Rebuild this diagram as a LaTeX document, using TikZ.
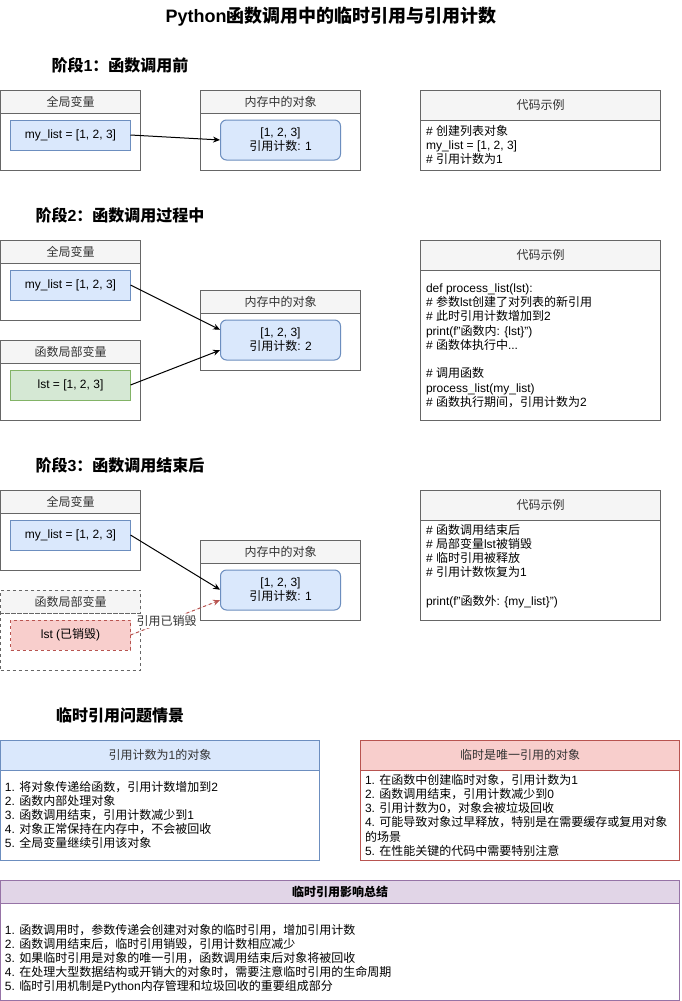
\documentclass[tikz,border=0pt]{standalone}
\usepackage{fontspec}
\setmainfont{Liberation Sans}
\newfontfamily\cjkfont{Noto Sans CJK SC}
\usetikzlibrary{arrows.meta}
\newXeTeXintercharclass\CJKcls
\newcount\cjkc
\def\setcjkrange#1#2{\cjkc=#1\relax\loop\XeTeXcharclass\cjkc=\CJKcls\relax\ifnum\cjkc<#2\relax\advance\cjkc by 1\relax\repeat}
\setcjkrange{"3000}{"303F}
\setcjkrange{"4E00}{"9FFF}
\setcjkrange{"FF00}{"FFEF}
\XeTeXinterchartoks 0 \CJKcls = {\cjkfont}
\XeTeXinterchartoks 4095 \CJKcls = {\cjkfont}
\XeTeXinterchartoks \CJKcls 0 = {\rmfamily}
\XeTeXinterchartoks \CJKcls 4095 = {\rmfamily}
\XeTeXinterchartokenstate=1
\definecolor{hdrfill}{HTML}{F5F5F5}
\definecolor{edgegray}{HTML}{666666}
\definecolor{txtgray}{HTML}{333333}
\definecolor{bluefill}{HTML}{DAE8FC}
\definecolor{bluedraw}{HTML}{6C8EBF}
\definecolor{greenfill}{HTML}{D5E8D4}
\definecolor{greendraw}{HTML}{82B366}
\definecolor{redfill}{HTML}{F8CECC}
\definecolor{reddraw}{HTML}{B85450}
\definecolor{purplefill}{HTML}{E1D5E7}
\definecolor{purpledraw}{HTML}{9673A6}
\newcommand\fl{\rule{0pt}{12pt}}
\tikzset{
  basefont/.style={font=\fontsize{12}{14}\selectfont, inner sep=0pt, outer sep=0pt},
  hdr/.style={basefont, draw=edgegray, fill=hdrfill, text=txtgray, line width=1pt, anchor=north west},
  bodybox/.style={draw=edgegray, fill=white, line width=1pt, anchor=north west, inner sep=0pt, outer sep=0pt},
  dashbox/.style={dash pattern=on 3pt off 3pt},
  varbox/.style={basefont, line width=1pt, anchor=north west, minimum width=120, minimum height=30},
  bluebox/.style={varbox, draw=bluedraw, fill=bluefill},
  greenbox/.style={varbox, draw=greendraw, fill=greenfill},
  redbox/.style={varbox, draw=reddraw, fill=redfill, dashbox},
  objbox/.style={basefont, line width=1pt, anchor=north west, minimum width=120, minimum height=40,
    draw=bluedraw, fill=bluefill, rounded corners=6pt, align=center},
  codetext/.style={basefont, align=left, anchor=north west},
  heading/.style={font=\fontsize{16}{19}\selectfont\bfseries, inner sep=0pt},
  arr/.style={-{Stealth[length=7pt,width=6pt]}, line width=1pt, shorten >=0.5pt},
}
\begin{document}
\begin{tikzpicture}[x=1pt,y=-1pt]
\useasboundingbox (0,0) rectangle (681,1001);

\node[font=\fontsize{18}{21}\selectfont\bfseries, inner sep=0pt] (title) at (331,17) {Python函数调用中的临时引用与引用计数};

% ---------- Stage 1 ----------
\node[heading] (h1) at (120,65) {阶段1：函数调用前};

\node[bodybox, minimum width=140, minimum height=57] (g1b) at (0.5,113) {};
\node[hdr, minimum width=140, minimum height=23] (g1h) at (0.5,90) {全局变量};
\node[bluebox] (ml1) at (10.5,120) {my\_list = [1, 2, 3]};

\node[bodybox, minimum width=160, minimum height=57] (m1b) at (200.5,113) {};
\node[hdr, minimum width=160, minimum height=23] (m1h) at (200.5,90) {内存中的对象};
\node[objbox] (o1) at (220.5,120) {[1, 2, 3]\\引用计数: 1};

\node[bodybox, minimum width=240, minimum height=50] (c1b) at (420.5,120) {};
\node[hdr, minimum width=240, minimum height=30] (c1h) at (420.5,90) {代码示例};
\node[codetext] (c1t) at (426,123.3) {\fl\# 创建列表对象\\my\_list = [1, 2, 3]\\\# 引用计数为1};

\draw[arr] (ml1.east) -- (o1.west);

% ---------- Stage 2 ----------
\node[heading] (h2) at (120,215) {阶段2：函数调用过程中};

\node[bodybox, minimum width=140, minimum height=57] (g2b) at (0.5,263) {};
\node[hdr, minimum width=140, minimum height=23] (g2h) at (0.5,240) {全局变量};
\node[bluebox] (ml2) at (10.5,270) {my\_list = [1, 2, 3]};

\node[bodybox, minimum width=140, minimum height=57] (l2b) at (0.5,363) {};
\node[hdr, minimum width=140, minimum height=23] (l2h) at (0.5,340) {函数局部变量};
\node[greenbox] (lst2) at (10.5,370) {lst = [1, 2, 3]};

\node[bodybox, minimum width=160, minimum height=57] (m2b) at (200.5,313) {};
\node[hdr, minimum width=160, minimum height=23] (m2h) at (200.5,290) {内存中的对象};
\node[objbox] (o2) at (220.5,320) {[1, 2, 3]\\引用计数: 2};

\node[bodybox, minimum width=240, minimum height=150] (c2b) at (420.5,270) {};
\node[hdr, minimum width=240, minimum height=30] (c2h) at (420.5,240) {代码示例};
\node[codetext, font=\fontsize{12}{14.25}\selectfont] (c2t) at (426,280.3) {\fl def process\_list(lst):\\\# 参数lst创建了对列表的新引用\\\# 此时引用计数增加到2\\print(f"函数内: \{lst\}")\\\# 函数体执行中...\\\mbox{}\\\# 调用函数\\process\_list(my\_list)\\\# 函数执行期间，引用计数为2};

\draw[arr] (ml2.east) -- ([yshift=10pt]o2.west);
\draw[arr] (lst2.east) -- ([yshift=-10pt]o2.west);

% ---------- Stage 3 ----------
\node[heading] (h3) at (120,465) {阶段3：函数调用结束后};

\node[bodybox, minimum width=140, minimum height=57] (g3b) at (0.5,513) {};
\node[hdr, minimum width=140, minimum height=23] (g3h) at (0.5,490) {全局变量};
\node[bluebox] (ml3) at (10.5,520) {my\_list = [1, 2, 3]};

\node[bodybox, dashbox, minimum width=140, minimum height=57] (l3b) at (0.5,613) {};
\node[hdr, dashbox, minimum width=140, minimum height=23] (l3h) at (0.5,590) {函数局部变量};
\node[redbox] (lst3) at (10.5,620) {lst (已销毁)};

\node[bodybox, minimum width=160, minimum height=57] (m3b) at (200.5,563) {};
\node[hdr, minimum width=160, minimum height=23] (m3h) at (200.5,540) {内存中的对象};
\node[objbox] (o3) at (220.5,570) {[1, 2, 3]\\引用计数: 1};

\node[bodybox, minimum width=240, minimum height=100] (c3b) at (420.5,520) {};
\node[hdr, minimum width=240, minimum height=30] (c3h) at (420.5,490) {代码示例};
\node[codetext, font=\fontsize{12}{14.2}\selectfont] (c3t) at (426,522.3) {\fl\# 函数调用结束后\\\# 局部变量lst被销毁\\\# 临时引用被释放\\\# 引用计数恢复为1\\\mbox{}\\print(f"函数外: \{my\_list\}")};

\draw[arr] (ml3.east) -- (o3.west);
\draw[arr, draw=reddraw, fill=reddraw, dashbox] (lst3.east) -- node[pos=0.4, fill=white, basefont, text=txtgray, inner sep=1pt] (lbl) {引用已销毁} ([yshift=-10pt]o3.west);

% ---------- Bottom ----------
\node[heading] (h4) at (120,715) {临时引用问题情景};

\node[bodybox, draw=bluedraw, minimum width=319, minimum height=90] (b1b) at (0.5,770) {};
\node[hdr, draw=bluedraw, fill=bluefill, minimum width=319, minimum height=30] (b1h) at (0.5,740) {引用计数为1的对象};
\node[codetext] (b1t) at (5,779.3) {\fl 1. 将对象传递给函数，引用计数增加到2\\2. 函数内部处理对象\\3. 函数调用结束，引用计数减少到1\\4. 对象正常保持在内存中，不会被回收\\5. 全局变量继续引用该对象};

\node[bodybox, draw=reddraw, minimum width=319, minimum height=90] (r1b) at (360.5,770) {};
\node[hdr, draw=reddraw, fill=redfill, minimum width=319, minimum height=30] (r1h) at (360.5,740) {临时是唯一引用的对象};
\node[codetext, font=\fontsize{12}{14.2}\selectfont] (r1t) at (365,772.3) {\fl 1. 在函数中创建临时对象，引用计数为1\\2. 函数调用结束，引用计数减少到0\\3. 引用计数为0，对象会被垃圾回收\\4. 可能导致对象过早释放，特别是在需要缓存或复用对象\\的场景\\5. 在性能关键的代码中需要特别注意};

\node[bodybox, draw=purpledraw, minimum width=679, minimum height=97] (p1b) at (0.5,903) {};
\node[hdr, draw=purpledraw, fill=purplefill, text=black, font=\fontsize{12}{14}\selectfont\bfseries, minimum width=679, minimum height=23] (p1h) at (0.5,880) {临时引用影响总结};
\node[codetext] (p1t) at (5,922.3) {\fl 1. 函数调用时，参数传递会创建对对象的临时引用，增加引用计数\\2. 函数调用结束后，临时引用销毁，引用计数相应减少\\3. 如果临时引用是对象的唯一引用，函数调用结束后对象将被回收\\4. 在处理大型数据结构或开销大的对象时，需要注意临时引用的生命周期\\5. 临时引用机制是Python内存管理和垃圾回收的重要组成部分};
\end{tikzpicture}
\end{document}
